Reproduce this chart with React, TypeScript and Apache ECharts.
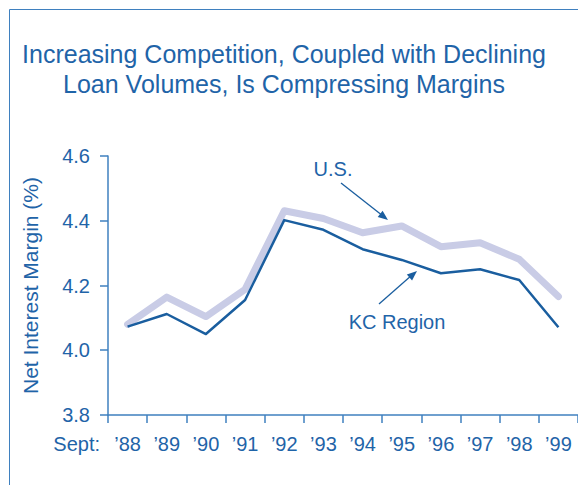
import React, { useEffect, useRef } from "react";
import * as echarts from "echarts";

const years = ["’88", "’89", "’90", "’91", "’92", "’93", "’94", "’95", "’96", "’97", "’98", "’99"];
const usMargin = [4.08, 4.164, 4.104, 4.188, 4.431, 4.407, 4.363, 4.384, 4.32, 4.332, 4.281, 4.166];
const kcMargin = [4.073, 4.112, 4.05, 4.155, 4.402, 4.372, 4.312, 4.279, 4.238, 4.25, 4.217, 4.071];
const titleLines = ["Increasing Competition, Coupled with Declining", "Loan Volumes, Is Compressing Margins"];

const TEXT = "#1f64a8";
const AXIS = "#3f80bf";
const FONT = "'Liberation Sans', Arial, sans-serif";

export default function App() {
  const ref = useRef<HTMLDivElement>(null);
  useEffect(() => {
    if (!ref.current) return;
    const chart = echarts.init(ref.current, null, { renderer: "svg" });
    chart.setOption({
      animation: false,
      backgroundColor: "#ffffff",
      textStyle: { fontFamily: FONT },
      title: {
        text: titleLines.join("\n"),
        left: 279,
        textAlign: "center",
        top: 34,
        textStyle: { color: TEXT, fontSize: 25, fontWeight: "normal", lineHeight: 30, fontFamily: FONT },
      },
      grid: { left: 108, right: 0, top: 156, bottom: 70 },
      xAxis: {
        type: "category",
        data: years,
        boundaryGap: true,
        axisLine: { lineStyle: { color: AXIS, width: 1.5 } },
        axisTick: { show: true, length: 8, lineStyle: { color: AXIS, width: 1.5 } },
        axisLabel: { color: TEXT, fontSize: 20, margin: 19, fontFamily: FONT },
      },
      yAxis: {
        type: "value",
        min: 3.8,
        max: 4.6,
        interval: 0.2,
        name: "Net Interest Margin (%)",
        nameLocation: "middle",
        nameRotate: 90,
        nameGap: 67,
        nameTextStyle: { color: TEXT, fontSize: 21, fontFamily: FONT },
        axisLine: { show: true, lineStyle: { color: AXIS, width: 1.5 } },
        axisTick: { show: true, length: 8, lineStyle: { color: AXIS, width: 1.5 } },
        splitLine: { show: false },
        axisLabel: {
          color: TEXT,
          fontSize: 20,
          margin: 18,
          fontFamily: FONT,
          formatter: (v: number) => v.toFixed(1),
        },
      },
      series: [
        {
          name: "U.S.",
          type: "line",
          data: usMargin,
          symbol: "none",
          lineStyle: { color: "#c9cce6", width: 7, cap: "round", join: "round" },
          z: 2,
        },
        {
          name: "KC Region",
          type: "line",
          data: kcMargin,
          symbol: "none",
          lineStyle: { color: "#1a5e9f", width: 2.5, join: "round" },
          z: 3,
        },
      ],
      graphic: [
        {
          type: "rect",
          shape: { x: 9.5, y: 9.5, width: 700, height: 700 },
          style: { fill: "none", stroke: "#3f80bf", lineWidth: 1 },
          silent: true,
        },
        {
          type: "text",
          x: 100,
          y: 444,
          style: { text: "Sept:", fill: TEXT, font: `20px ${FONT}`, textAlign: "right", textVerticalAlign: "middle" },
        },
        {
          type: "text",
          x: 333,
          y: 169,
          style: { text: "U.S.", fill: TEXT, font: `20px ${FONT}`, textAlign: "center", textVerticalAlign: "middle" },
        },
        {
          type: "line",
          shape: { x1: 341, y1: 183, x2: 383, y2: 216 },
          style: { stroke: "#1a5e9f", lineWidth: 1.3 },
        },
        {
          type: "polygon",
          shape: { points: [[388, 220], [377.7, 216.9], [382.6, 210.7]] },
          style: { fill: "#1a5e9f" },
        },
        {
          type: "text",
          x: 397,
          y: 322,
          style: { text: "KC Region", fill: TEXT, font: `20px ${FONT}`, textAlign: "center", textVerticalAlign: "middle" },
        },
        {
          type: "line",
          shape: { x1: 379, y1: 304, x2: 412, y2: 275 },
          style: { stroke: "#1a5e9f", lineWidth: 1.3 },
        },
        {
          type: "polygon",
          shape: { points: [[417, 271], [412.07, 280.58], [406.83, 274.54]] },
          style: { fill: "#1a5e9f" },
        },
      ],
    });
    return () => chart.dispose();
  }, []);
  return <div ref={ref} style={{ position: "fixed", left: 0, top: 0, width: 578, height: 485 }} />;
}
